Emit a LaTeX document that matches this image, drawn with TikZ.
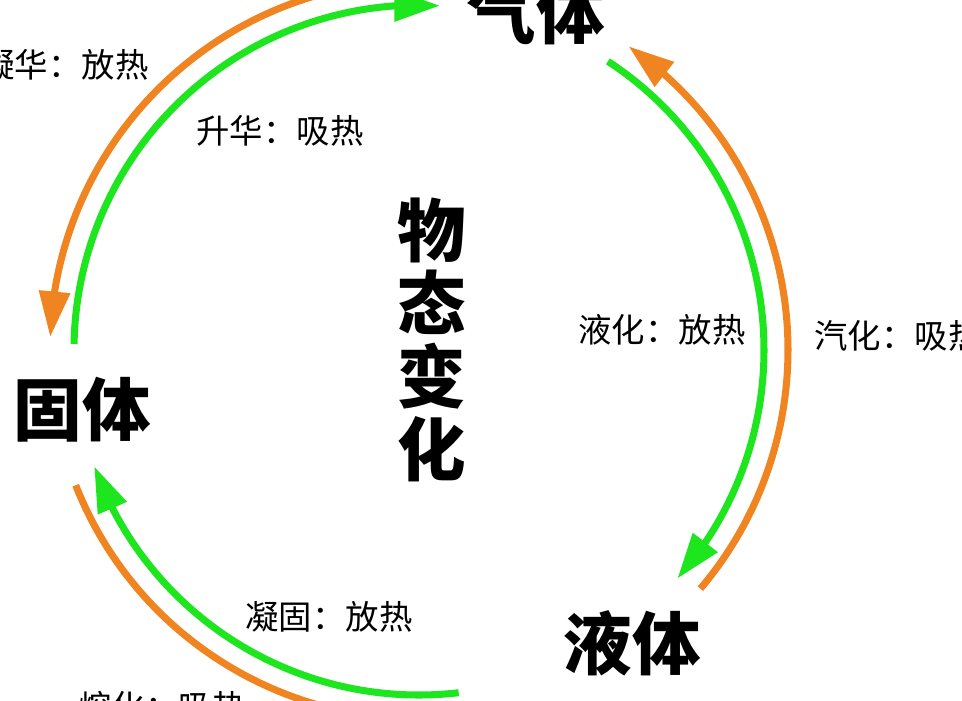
\documentclass[tikz,border=0pt]{standalone}
\usepackage{fontspec}
\setmainfont{Noto Sans CJK SC}
\usetikzlibrary{arrows.meta,bending,calc}
\definecolor{phgreen}{RGB}{30,230,30}
\definecolor{phorange}{RGB}{240,132,32}
\tikzset{
  state/.style={font=\fontsize{39}{41}\selectfont\bfseries, inner sep=0pt},
  heat/.style={font=\fontsize{19}{23}\selectfont, inner sep=0pt},
  inner arc/.style={draw=phgreen, line width=4pt, -{Triangle[length=26pt,width=17pt]}},
  outer arc/.style={draw=phorange, line width=4pt, -{Triangle[length=26pt,width=17pt]}}
}
\begin{document}
\begin{tikzpicture}[x=0.02cm, y=0.02cm]
  \useasboundingbox (0,0) rectangle (962,700);
  \clip (0,0) rectangle (962,700);
  \coordinate (c) at (419,350);
  % states
  \node[state] (gas) at (536,688) {气体};
  \node[state] (solid) at (82,290) {固体};
  \node[state] (liquid) at (632,57) {液体};
  \node[state, align=center, font=\fontsize{39}{41.5}\selectfont\bfseries] (title) at (432,360) {物\\态\\变\\化};
  % labels
  \node[heat] (ninghua) at (65,635) {凝华：放热};
  \node[heat] (shenghua) at (280,569) {升华：吸热};
  \node[heat] (yehua) at (662,370) {液化：放热};
  \node[heat] (qihua) at (898,364) {汽化：吸热};
  \node[heat] (ninggu) at (329,83) {凝固：放热};
  \node[heat] (ronghua) at (162,-7) {熔化：吸热};
  % arc ends
  \coordinate (sub1) at ($(c)+(179:345)$);
  \coordinate (liq1) at ($(c)+(56.8:345)$);
  \coordinate (sol1) at ($(c)+(-83.4:345)$);
  \coordinate (dep1) at ($(c)+(93:369)$);
  \coordinate (vap1) at ($(c)+(-40.3:369)$);
  \coordinate (mel1) at ($(c)+(-158.5:369)$);
  % green: inner circle
  \draw[inner arc] (sub1) arc[start angle=179, end angle=86.5, radius=345];
  \draw[inner arc] (liq1) arc[start angle=56.8, end angle=-41.5, radius=345];
  \draw[inner arc] (sol1) arc[start angle=-83.4, end angle=-160.3, radius=345];
  % orange: outer circle
  \draw[outer arc] (dep1) arc[start angle=93, end angle=178, radius=369];
  \draw[outer arc] (vap1) arc[start angle=-40.3, end angle=55.4, radius=369];
  \draw[outer arc] (mel1) arc[start angle=-158.5, end angle=-78, radius=369];
\end{tikzpicture}
\end{document}
